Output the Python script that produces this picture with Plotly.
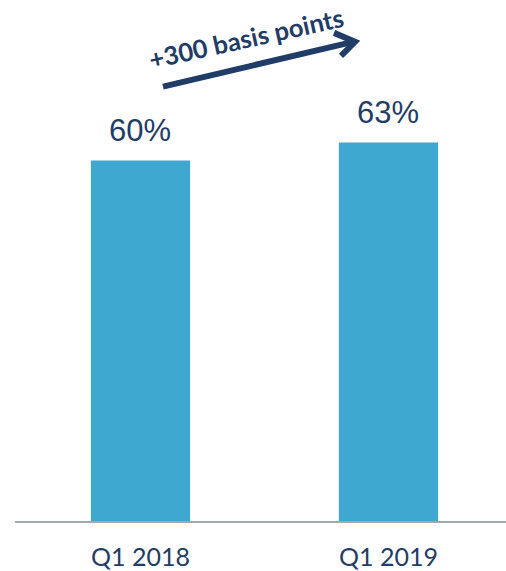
import plotly.graph_objects as go

categories = ["Q1 2018", "Q1 2019"]
values = [60, 63]
labels = ["60%", "63%"]

W, H = 506, 571
ML, MR, MT, MB = 15, 0, 0, 48
PW, PH = W - ML - MR, H - MT - MB

def px(x):
    return (x - ML) / PW

def py(y):
    return 1 - (y - MT) / PH

navy = "#1F3D66"
fig = go.Figure()
fig.add_trace(go.Bar(
    x=categories, y=values,
    marker=dict(color="#3EA8D0", line=dict(width=0)),
    width=0.4,
))

annotations = [
    dict(x=c, y=v, text=t, xref="x", yref="y", showarrow=False,
         xanchor="center", yanchor="bottom", yshift=10,
         font=dict(family="Liberation Sans, Arial", size=31, color=navy))
    for c, v, t in zip(categories, values, labels)
]
annotations.append(dict(
    text="<b>+300 basis points</b>", xref="paper", yref="paper",
    x=px(246), y=py(38), xanchor="center", yanchor="middle",
    showarrow=False, textangle=-12.5, borderpad=0,
    font=dict(family="Lato, Carlito, sans-serif", size=25.5, color=navy),
))

arrow_col = "#1F3D66"
shapes = [
    dict(type="line", xref="paper", yref="paper", x0=px(163), y0=py(87), x1=px(353), y1=py(42),
         line=dict(color=arrow_col, width=6)),
    dict(type="path", xref="paper", yref="paper",
         path=f"M {px(334)},{py(33)} L {px(355)},{py(42)} L {px(341)},{py(56)}",
         line=dict(color=arrow_col, width=6)),
]

fig.update_layout(
    width=W, height=H,
    margin=dict(l=ML, r=MR, t=MT, b=MB),
    paper_bgcolor="white", plot_bgcolor="white",
    showlegend=False,
    shapes=shapes,
    annotations=annotations,
    xaxis=dict(
        type="category", range=[-0.506, 1.474], showgrid=False,
        showline=True, linecolor="#A3A7AE", linewidth=2,
        ticks="outside", ticklen=13, tickcolor="rgba(0,0,0,0)",
        tickfont=dict(family="Lato, sans-serif", size=25, color=navy),
    ),
    yaxis=dict(range=[0, 86.7], visible=False, showgrid=False, zeroline=False),
)

fig.write_html("out.html")
